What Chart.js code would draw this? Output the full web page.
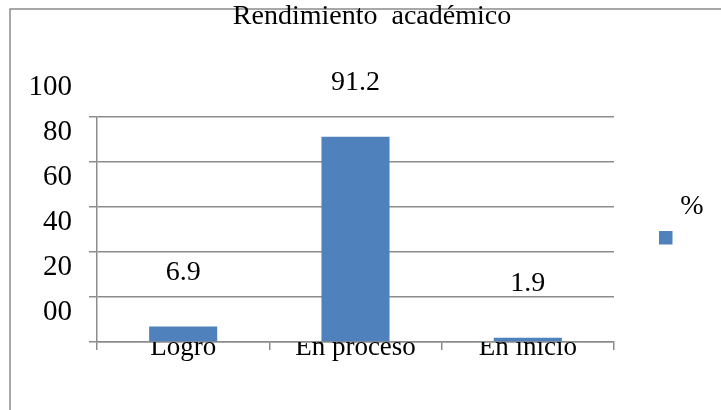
<!DOCTYPE html>
<html>
<head>
<meta charset="utf-8">
<script src="https://cdn.jsdelivr.net/npm/chart.js@4.4.0/dist/chart.umd.min.js"></script>
<style>
html, body { margin: 0; padding: 0; background: #fff; }
canvas { display: block; }
</style>
</head>
<body>
<canvas id="canvas1" width="721" height="410"></canvas>
<script>
var categories = ['Logro', 'En proceso', 'En inicio'];
var percentValues = [6.9, 91.2, 1.9];
var yTickLabels = ['00', '20', '40', '60', '80', '100'];
var seriesName = '%';
var chartTitle = 'Rendimiento  académico';

var serif = "'Liberation Serif', 'Times New Roman', serif";
var gray = '#8c8c8c';
var blue = '#4f81bd';

// white page + outer frame (runs off the right/bottom edge like the original)
var frame = {
    id: 'frame',
    beforeDraw: function(chart){
        var ctx = chart.ctx;
        ctx.save();
        ctx.fillStyle = '#fff';
        ctx.fillRect(0, 0, chart.width, chart.height);
        ctx.strokeStyle = gray;
        ctx.lineWidth = 1.5;
        ctx.strokeRect(10, 9, chart.width + 20, chart.height + 20);
        ctx.restore();
    }
};

// title, value labels above the bars and the odd legend (text over the box)
var extras = {
    id: 'extras',
    afterDatasetsDraw: function(chart){
        var ctx = chart.ctx;
        var ds = chart.data.datasets[0];
        var meta = chart.getDatasetMeta(0);
        ctx.save();
        ctx.fillStyle = '#000';
        ctx.textAlign = 'center';
        ctx.textBaseline = 'middle';
        ctx.font = '28px ' + serif;
        ctx.fillText(chartTitle, 372, 17);
        meta.data.forEach(function(bar, i){
            ctx.fillText(String(ds.data[i]), bar.x, bar.y - 54);
        });
        ctx.fillText(ds.label, 692, 207);
        ctx.fillStyle = ds.backgroundColor;
        ctx.fillRect(659, 231, 13.5, 13.5);
        ctx.restore();
    }
};

new Chart(document.getElementById('canvas1'), {
    type: 'bar',
    data: {
        labels: categories,
        datasets: [{
            label: seriesName,
            data: percentValues,
            backgroundColor: blue,
            borderWidth: 0,
            categoryPercentage: 0.5,
            barPercentage: 0.79
        }]
    },
    options: {
        responsive: false,
        animation: false,
        layout: { padding: { left: 13, right: 107, top: 117, bottom: 18 } },
        plugins: {
            legend: { display: false },
            title: { display: false },
            tooltip: { enabled: false }
        },
        scales: {
            x: {
                z: 1,
                grid: { drawOnChartArea: false, color: gray, lineWidth: 1.5, tickLength: 8, offset: true },
                border: { color: gray, width: 1.5 },
                ticks: {
                    color: '#000',
                    font: { family: serif, size: 27 },
                    padding: -18,
                    maxRotation: 0,
                    autoSkip: false
                },
                afterFit: function(s){ s.height = 50; }
            },
            y: {
                min: 0,
                max: 100,
                grid: { color: gray, lineWidth: 1.5, tickLength: 8 },
                border: { color: gray, width: 1.5 },
                ticks: {
                    stepSize: 20,
                    color: '#000',
                    font: { family: serif, size: 29 },
                    padding: 17,
                    labelOffset: -30,
                    callback: function(v, i){ return yTickLabels[i]; }
                },
                afterFit: function(s){ s.width = 84; }
            }
        }
    },
    plugins: [frame, extras]
});
</script>
</body>
</html>
